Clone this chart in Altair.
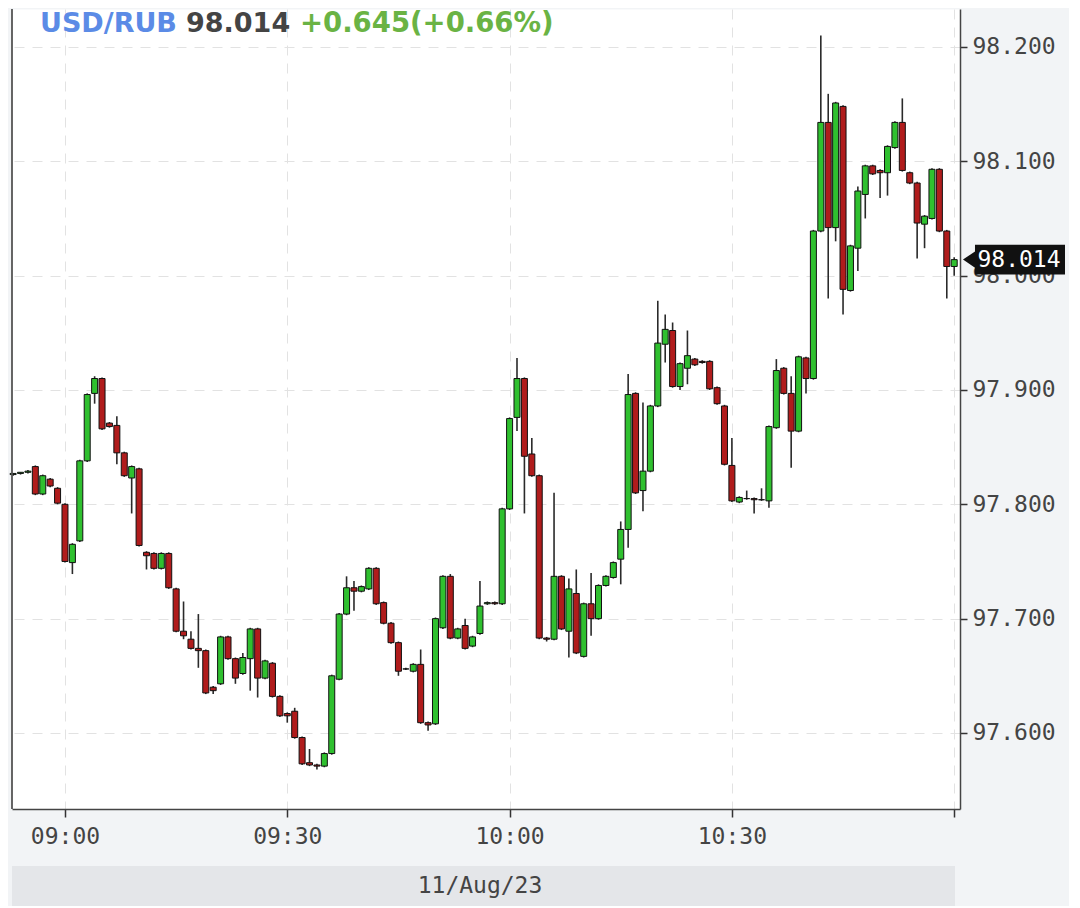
import altair as alt
import pandas as pd

# ---- data (1-minute candles, 11 Aug 2023) ----
times = [
    "08:53", "08:54", "08:55", "08:56", "08:57", "08:58", "08:59",
    "09:00", "09:01", "09:02", "09:03", "09:04", "09:05", "09:06", "09:07", "09:08", "09:09",
    "09:10", "09:11", "09:12", "09:13", "09:14", "09:15", "09:16", "09:17", "09:18", "09:19",
    "09:20", "09:21", "09:22", "09:23", "09:24", "09:25", "09:26", "09:27", "09:28", "09:29",
    "09:30", "09:31", "09:32", "09:33", "09:34", "09:35", "09:36", "09:37", "09:38", "09:39",
    "09:40", "09:41", "09:42", "09:43", "09:44", "09:45", "09:46", "09:47", "09:48", "09:49",
    "09:50", "09:51", "09:52", "09:53", "09:54", "09:55", "09:56", "09:57", "09:58", "09:59",
    "10:00", "10:01", "10:02", "10:03", "10:04", "10:05", "10:06", "10:07", "10:08", "10:09",
    "10:10", "10:11", "10:12", "10:13", "10:14", "10:15", "10:16", "10:17", "10:18", "10:19",
    "10:20", "10:21", "10:22", "10:23", "10:24", "10:25", "10:26", "10:27", "10:28", "10:29",
    "10:30", "10:31", "10:32", "10:33", "10:34", "10:35", "10:36", "10:37", "10:38", "10:39",
    "10:40", "10:41", "10:42", "10:43", "10:44", "10:45", "10:46", "10:47", "10:48", "10:49",
    "10:50", "10:51", "10:52", "10:53", "10:54", "10:55", "10:56", "10:57", "10:58", "10:59",
    "11:00",
]
opens = [
    97.826, 97.827, 97.828, 97.833, 97.809, 97.822, 97.814,
    97.800, 97.749, 97.768, 97.838, 97.897, 97.910, 97.871, 97.869, 97.845, 97.823,
    97.831, 97.758, 97.757, 97.744, 97.757, 97.726, 97.689, 97.682, 97.674, 97.672,
    97.640, 97.643, 97.684, 97.665, 97.652, 97.665, 97.691, 97.648, 97.661, 97.632,
    97.617, 97.619, 97.596, 97.574, 97.572, 97.571, 97.582, 97.647, 97.704, 97.727,
    97.724, 97.726, 97.744, 97.714, 97.696, 97.679, 97.656, 97.654, 97.660, 97.609,
    97.608, 97.692, 97.737, 97.683, 97.694, 97.676, 97.687, 97.713, 97.714, 97.713,
    97.796, 97.876, 97.910, 97.844, 97.825, 97.683, 97.682, 97.737, 97.689, 97.722,
    97.667, 97.713, 97.700, 97.729, 97.736, 97.752, 97.778, 97.897, 97.812, 97.829,
    97.886, 97.940, 97.952, 97.903, 97.919, 97.927, 97.925, 97.925, 97.902, 97.886,
    97.834, 97.802, 97.805, 97.805, 97.804, 97.803, 97.867, 97.919, 97.897, 97.864,
    97.928, 97.910, 98.039, 98.134, 98.042, 98.148, 97.987, 98.024, 98.071, 98.096,
    98.092, 98.090, 98.112, 98.134, 98.090, 98.081, 98.045, 98.050, 98.093, 98.039,
    98.008,
]
highs = [
    97.827, 97.828, 97.830, 97.834, 97.826, 97.823, 97.815,
    97.801, 97.766, 97.839, 97.897, 97.912, 97.911, 97.872, 97.877, 97.846, 97.834,
    97.832, 97.759, 97.758, 97.758, 97.758, 97.727, 97.715, 97.689, 97.704, 97.673,
    97.641, 97.685, 97.685, 97.666, 97.670, 97.692, 97.692, 97.664, 97.662, 97.633,
    97.618, 97.622, 97.597, 97.586, 97.573, 97.583, 97.651, 97.705, 97.737, 97.733,
    97.729, 97.745, 97.745, 97.715, 97.697, 97.680, 97.657, 97.661, 97.673, 97.610,
    97.701, 97.738, 97.739, 97.692, 97.700, 97.685, 97.733, 97.715, 97.715, 97.797,
    97.876, 97.928, 97.911, 97.858, 97.826, 97.684, 97.810, 97.738, 97.735, 97.743,
    97.714, 97.740, 97.730, 97.738, 97.750, 97.785, 97.914, 97.898, 97.889, 97.887,
    97.978, 97.966, 97.959, 97.924, 97.952, 97.928, 97.926, 97.926, 97.903, 97.887,
    97.858, 97.807, 97.812, 97.806, 97.814, 97.869, 97.927, 97.920, 97.912, 97.930,
    97.929, 98.040, 98.210, 98.159, 98.152, 98.149, 98.027, 98.078, 98.097, 98.097,
    98.093, 98.114, 98.135, 98.155, 98.091, 98.082, 98.053, 98.094, 98.094, 98.040,
    98.016,
]
lows = [
    97.825, 97.826, 97.827, 97.808, 97.808, 97.815, 97.800,
    97.749, 97.739, 97.767, 97.837, 97.888, 97.865, 97.867, 97.835, 97.824, 97.792,
    97.763, 97.743, 97.743, 97.743, 97.726, 97.688, 97.682, 97.673, 97.657, 97.634,
    97.634, 97.642, 97.664, 97.643, 97.651, 97.637, 97.631, 97.647, 97.631, 97.614,
    97.609, 97.595, 97.572, 97.571, 97.568, 97.570, 97.581, 97.646, 97.703, 97.707,
    97.723, 97.725, 97.712, 97.695, 97.678, 97.650, 97.655, 97.653, 97.608, 97.602,
    97.607, 97.691, 97.682, 97.682, 97.673, 97.675, 97.686, 97.712, 97.712, 97.712,
    97.795, 97.864, 97.792, 97.824, 97.682, 97.680, 97.681, 97.690, 97.666, 97.669,
    97.666, 97.685, 97.699, 97.728, 97.735, 97.730, 97.762, 97.809, 97.794, 97.828,
    97.885, 97.924, 97.902, 97.900, 97.905, 97.921, 97.923, 97.900, 97.887, 97.834,
    97.802, 97.801, 97.804, 97.792, 97.803, 97.797, 97.866, 97.896, 97.832, 97.863,
    97.897, 97.909, 98.038, 97.980, 98.030, 97.966, 97.986, 98.004, 98.050, 98.088,
    98.068, 98.070, 98.111, 98.091, 98.080, 98.015, 98.024, 98.049, 98.038, 97.980,
    98.000,
]
closes = [
    97.827, 97.828, 97.829, 97.809, 97.825, 97.816, 97.801,
    97.750, 97.765, 97.838, 97.896, 97.910, 97.866, 97.868, 97.845, 97.825, 97.833,
    97.764, 97.755, 97.744, 97.757, 97.727, 97.689, 97.685, 97.674, 97.672, 97.635,
    97.637, 97.684, 97.665, 97.648, 97.666, 97.691, 97.648, 97.663, 97.632, 97.615,
    97.615, 97.596, 97.573, 97.572, 97.571, 97.582, 97.650, 97.704, 97.727, 97.724,
    97.728, 97.744, 97.713, 97.696, 97.679, 97.654, 97.656, 97.660, 97.609, 97.607,
    97.700, 97.737, 97.683, 97.691, 97.674, 97.684, 97.711, 97.714, 97.713, 97.796,
    97.875, 97.910, 97.842, 97.825, 97.683, 97.682, 97.737, 97.691, 97.726, 97.670,
    97.713, 97.700, 97.729, 97.737, 97.749, 97.778, 97.896, 97.810, 97.829, 97.886,
    97.941, 97.953, 97.903, 97.923, 97.930, 97.922, 97.924, 97.901, 97.888, 97.835,
    97.803, 97.806, 97.805, 97.804, 97.804, 97.868, 97.917, 97.897, 97.864, 97.929,
    97.910, 98.039, 98.134, 98.042, 98.151, 97.988, 98.026, 98.074, 98.096, 98.089,
    98.090, 98.113, 98.134, 98.092, 98.081, 98.046, 98.052, 98.093, 98.039, 98.008,
    98.014,
]

y_ticks = [97.6, 97.7, 97.8, 97.9, 98.0, 98.1, 98.2]
x_tick_times = [(9, 0), (9, 30), (10, 0), (10, 30), (11, 0)]
pair_label = "USD/RUB"
last_price = 98.014
last_price_label = "98.014"
change_label = "+0.645(+0.66%)"
date_label = "11/Aug/23"

GREEN = "#2fc02f"
RED = "#b01c1c"
MONO = "DejaVu Sans Mono"

df = pd.DataFrame({
    "time": ["2023-08-11T" + t + ":00Z" for t in times],
    "open": opens, "high": highs, "low": lows, "close": closes,
})


def dt(h, m, s=0):
    return alt.DateTime(year=2023, month=8, date=11, hours=h, minutes=m, seconds=s, utc=True)


xscale = alt.Scale(type="utc", domain=[dt(8, 52, 51), dt(11, 0, 47)], padding=0)
yscale = alt.Scale(domain=[97.5335, 98.2332], nice=False, zero=False, padding=0)

xaxis = alt.Axis(
    values=[dt(h, m) for h, m in x_tick_times], format="%H:%M",
    labelExpr="datum.label == '11:00' ? '' : datum.label",
    grid=True, gridDash=[10, 8], gridColor="#e2e2e2",
    tickSize=8, tickColor="#333", tickWidth=1.5,
    domainColor="#444", domainWidth=1.5,
    labelFont=MONO, labelFontSize=23, labelColor="#444", labelPadding=8,
)
yaxis = alt.Axis(
    orient="right", values=y_ticks, format=".3f",
    grid=True, gridDash=[10, 8], gridColor="#e2e2e2",
    tickSize=7, tickColor="#333", tickWidth=1.5,
    domainColor="#444", domainWidth=1.5,
    labelFont=MONO, labelFontSize=23, labelColor="#444", labelPadding=5,
)

X = alt.X("time:T", scale=xscale, axis=xaxis, title=None)

wicks = alt.Chart(df).mark_rule(color="#2a2a2a", strokeWidth=1.6).encode(
    x=X,
    y=alt.Y("low:Q", scale=yscale, axis=yaxis, title=None),
    y2="high:Q",
)
bodies = alt.Chart(df).mark_bar(size=6, stroke="#111", strokeWidth=1).encode(
    x=X,
    y=alt.Y("open:Q", scale=yscale, axis=yaxis, title=None),
    y2="close:Q",
    color=alt.condition("datum.close >= datum.open", alt.value(GREEN), alt.value(RED)),
)

one = pd.DataFrame({"k": [0]})

left_border = alt.Chart(one).mark_rule(color="#555", strokeWidth=1.8).encode(
    x=alt.value(0), y=alt.value(0), y2=alt.value(800)
)
date_bar = alt.Chart(one).mark_rect(color="#e4e6e9").encode(
    x=alt.value(0), x2=alt.value(943), y=alt.value(857), y2=alt.value(897)
)
date_text = alt.Chart(one).mark_text(
    text=date_label, font=MONO, fontSize=23, color="#444", align="center", baseline="middle"
).encode(x=alt.value(468), y=alt.value(877))

hdr1 = alt.Chart(one).mark_text(
    text=pair_label, font="DejaVu Sans", fontSize=27, fontWeight="bold", color="#5b8be6",
    align="left", baseline="middle"
).encode(x=alt.value(28), y=alt.value(15))
hdr2 = alt.Chart(one).mark_text(
    text=last_price_label, font="DejaVu Sans", fontSize=27, fontWeight="bold", color="#444",
    align="left", baseline="middle"
).encode(x=alt.value(174), y=alt.value(15))
hdr3 = alt.Chart(one).mark_text(
    text=change_label, font="DejaVu Sans", fontSize=27.5, fontWeight="bold", color="#6ab344",
    align="left", baseline="middle"
).encode(x=alt.value(288), y=alt.value(15))

tag_path = "M -1 0 L -0.765 -0.16 L -0.765 -0.294 L 1 -0.294 L 1 0.294 L -0.765 0.294 L -0.765 0.16 Z"
tag = alt.Chart(one).mark_point(
    shape=tag_path, size=102 * 102, filled=True, fill="#111", stroke="#111", strokeWidth=0, opacity=1
).encode(x=alt.value(1002), y=alt.datum(last_price, scale=yscale))
tag_text = alt.Chart(one).mark_text(
    text=last_price_label, font=MONO, fontSize=23, color="white", align="center", baseline="middle"
).encode(x=alt.value(1007), y=alt.datum(last_price, scale=yscale))

chart = alt.layer(
    wicks, bodies, left_border, date_bar, date_text, hdr1, hdr2, hdr3, tag, tag_text
).properties(
    width=948, height=800,
    padding={"left": 1, "top": 0, "right": 4, "bottom": 0},
    background="#f2f4f6",
).configure_view(fill="white", stroke="transparent")

chart.save("out.html", embed_options={"renderer": "svg", "actions": False})
